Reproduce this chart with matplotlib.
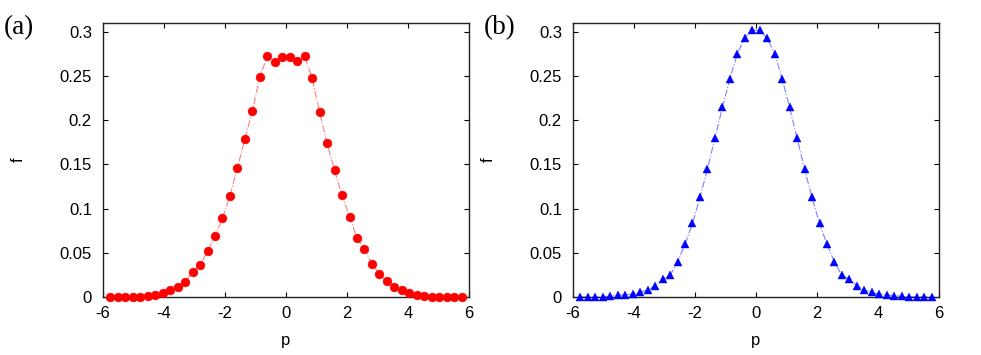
import matplotlib
matplotlib.use("Agg")
import matplotlib.pyplot as plt

p = [-5.755, -5.510, -5.265, -5.020, -4.776, -4.531, -4.286, -4.041,
     -3.796, -3.551, -3.306, -3.061, -2.816, -2.571, -2.327, -2.082,
     -1.837, -1.592, -1.347, -1.102, -0.857, -0.612, -0.367, -0.122,
     0.122, 0.367, 0.612, 0.857, 1.102, 1.347, 1.592, 1.837,
     2.082, 2.327, 2.571, 2.816, 3.061, 3.306, 3.551, 3.796,
     4.041, 4.286, 4.531, 4.776, 5.020, 5.265, 5.510, 5.755]

f_a = [0.0000, 0.0000, 0.0000, 0.0002, 0.0008, 0.0015, 0.0026, 0.0045,
       0.0083, 0.0117, 0.0169, 0.0290, 0.0365, 0.0523, 0.0692, 0.0892,
       0.1147, 0.1464, 0.1787, 0.2107, 0.2490, 0.2724, 0.2660, 0.2716,
       0.2709, 0.2667, 0.2724, 0.2472, 0.2088, 0.1738, 0.1433, 0.1151,
       0.0910, 0.0673, 0.0546, 0.0380, 0.0260, 0.0184, 0.0120, 0.0083,
       0.0045, 0.0026, 0.0015, 0.0008, 0.0004, 0.0004, 0.0000, 0.0000]

f_b = [0.0005, 0.0005, 0.0005, 0.0005, 0.0015, 0.0023, 0.0030, 0.0034,
       0.0056, 0.0083, 0.0132, 0.0203, 0.0248, 0.0399, 0.0598, 0.0835,
       0.1129, 0.1448, 0.1798, 0.2144, 0.2468, 0.2750, 0.2931, 0.3017,
       0.3017, 0.2923, 0.2750, 0.2468, 0.2144, 0.1798, 0.1448, 0.1129,
       0.0835, 0.0598, 0.0399, 0.0248, 0.0203, 0.0132, 0.0083, 0.0056,
       0.0034, 0.0030, 0.0015, 0.0015, 0.0005, 0.0005, 0.0005, 0.0005]

x_ticks = [-6, -4, -2, 0, 2, 4, 6]
y_ticks = [0, 0.05, 0.1, 0.15, 0.2, 0.25, 0.3]
y_tick_labels = ["0", "0.05", "0.1", "0.15", "0.2", "0.25", "0.3"]
panel_labels = ["(a)", "(b)"]

plt.rcParams['font.family'] = ['Liberation Sans', 'DejaVu Sans']

fig = plt.figure(figsize=(9.81, 3.55), dpi=100)
W, H = 981.0, 355.0
ax_a = fig.add_axes([103 / W, (H - 297.3) / H, 366 / W, 274.5 / H])
ax_b = fig.add_axes([573 / W, (H - 297.3) / H, 366 / W, 274.5 / H])

series = [
    (ax_a, f_a, 'o', '#ff0000', '#ff8080', 6.4),
    (ax_b, f_b, '^', '#0000ff', '#8080ff', 6.2),
]

for ax, f, mk, mc, lc, ms in series:
    ax.plot(p, f, linestyle='-.', color=lc, linewidth=0.8, zorder=2)
    ax.plot(p, f, linestyle='none', marker=mk, markersize=ms,
            markerfacecolor=mc, markeredgecolor=mc, markeredgewidth=0.3,
            zorder=3, clip_on=False)
    ax.set_xlim(-6, 6)
    ax.set_ylim(0, 0.31)
    ax.set_xticks(x_ticks)
    ax.set_xticklabels([str(t) for t in x_ticks])
    ax.set_yticks(y_ticks)
    ax.set_yticklabels(y_tick_labels)
    ax.tick_params(direction='in', length=3.5, width=0.8, colors='#000000',
                   labelsize=12, top=True, right=True, pad=8)
    ax.tick_params(axis='x', pad=6)
    for s in ax.spines.values():
        s.set_color('#222222')
        s.set_linewidth(1.0)
    ax.set_xlabel('p', fontsize=12, labelpad=9)
    ax.set_ylabel('f', fontsize=12, labelpad=24)

fig.text(4 / W, 1 - 34 / H, panel_labels[0], fontsize=19.5,
         family=['Liberation Serif', 'DejaVu Serif'])
fig.text(484 / W, 1 - 34 / H, panel_labels[1], fontsize=19.5,
         family=['Liberation Serif', 'DejaVu Serif'])

fig.savefig('out.png', dpi=100)
